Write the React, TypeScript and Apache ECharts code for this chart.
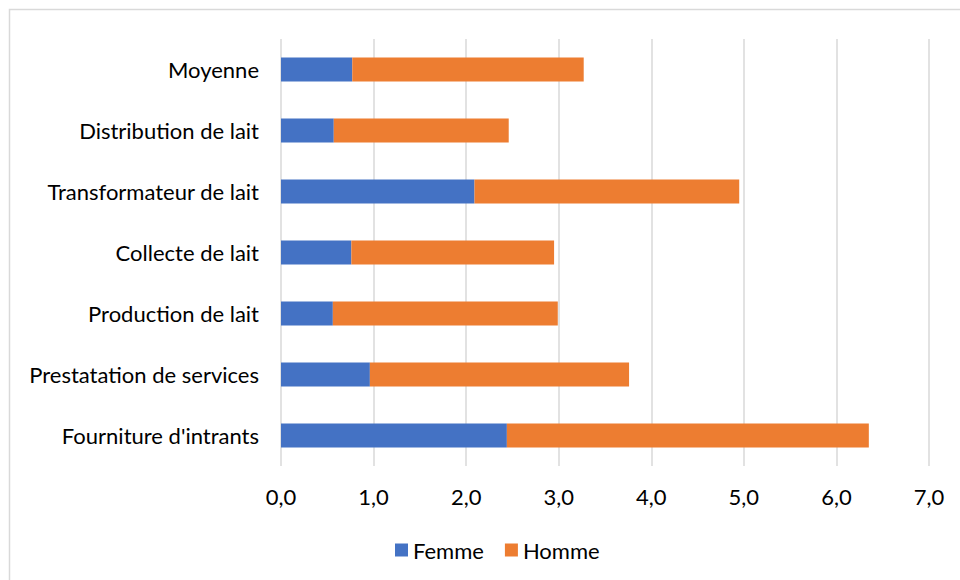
import React, { useEffect, useRef } from "react";
import * as echarts from "echarts";

const categories = [
  "Moyenne",
  "Distribution de lait",
  "Transformateur de lait",
  "Collecte de lait",
  "Production de lait",
  "Prestatation de services",
  "Fourniture d'intrants",
];
const femme = [0.77, 0.57, 2.09, 0.76, 0.56, 0.96, 2.44];
const homme = [2.5, 1.89, 2.86, 2.19, 2.43, 2.8, 3.91];
const seriesNames = ["Femme", "Homme"];

const FONT = "Lato, 'Open Sans', sans-serif";

export default function App() {
  const ref = useRef<HTMLDivElement>(null);
  useEffect(() => {
    document.body.style.margin = "0";
    if (!ref.current) return;
    const chart = echarts.init(ref.current, undefined, { renderer: "svg" });
    chart.setOption({
      animation: false,
      backgroundColor: "#ffffff",
      textStyle: { fontFamily: FONT },
      graphic: [
        {
          type: "rect",
          shape: { x: 9.5, y: 9.5, width: 960, height: 580 },
          style: { fill: "none", stroke: "#d9d9d9", lineWidth: 1.5 },
          silent: true,
        },
      ],
      grid: { left: 281, right: 31, top: 39, bottom: 114, containLabel: false },
      legend: {
        top: 534,
        left: 390,
        itemWidth: 13,
        itemHeight: 13,
        itemGap: 21,
        icon: "rect",
        textStyle: { fontFamily: FONT, fontSize: 22, color: "#000" },
        data: seriesNames,
      },
      xAxis: {
        type: "value",
        min: 0,
        max: 7,
        interval: 1,
        axisLine: { show: false },
        axisTick: { show: false },
        splitLine: { show: true, lineStyle: { color: "#d9d9d9", width: 1.5 } },
        axisLabel: {
          fontFamily: FONT,
          fontSize: 22,
          color: "#000",
          margin: 19,
          formatter: (v: number) => v.toFixed(1).replace(".", ","),
        },
      },
      yAxis: {
        type: "category",
        inverse: true,
        data: categories,
        axisLine: { show: false },
        axisTick: { show: false },
        axisLabel: {
          fontFamily: FONT,
          fontSize: 22,
          color: "#000",
          margin: 22,
        },
      },
      series: [
        {
          name: seriesNames[0],
          type: "bar",
          stack: "total",
          data: femme,
          barWidth: 24,
          itemStyle: { color: "#4472C4" },
        },
        {
          name: seriesNames[1],
          type: "bar",
          stack: "total",
          data: homme,
          barWidth: 24,
          itemStyle: { color: "#ED7D31" },
        },
      ],
    });
    return () => chart.dispose();
  }, []);
  return <div ref={ref} style={{ width: 960, height: 580 }} />;
}
